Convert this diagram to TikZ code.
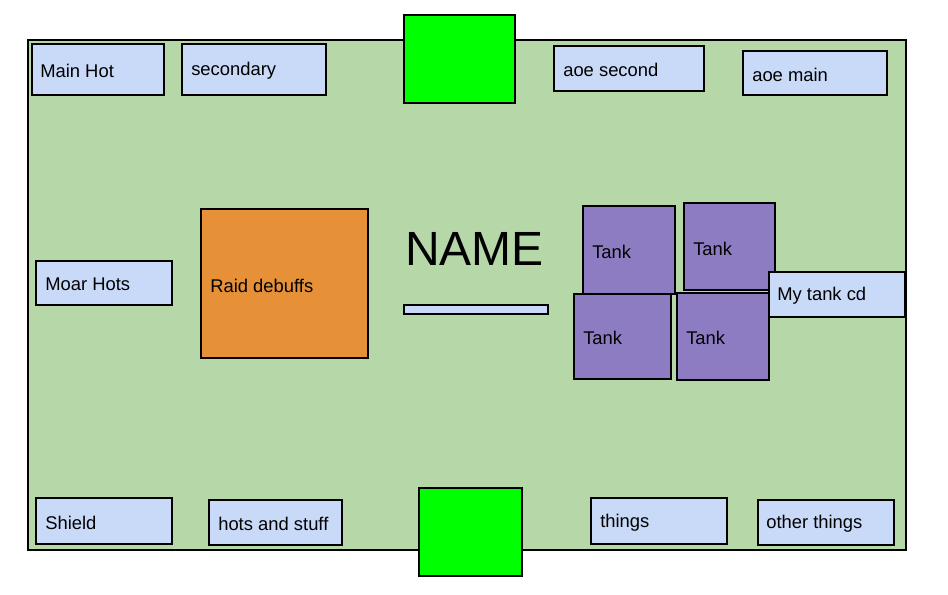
\documentclass[tikz,border=0pt]{standalone}
\usepackage{xcolor}
\usepackage{fontspec}
\setmainfont{Liberation Sans}
\definecolor{fieldgreen}{RGB}{182,215,168}
\definecolor{slotblue}{RGB}{201,218,248}
\definecolor{debufforange}{RGB}{230,145,56}
\definecolor{tankpurple}{RGB}{142,124,195}
\definecolor{markergreen}{RGB}{0,255,0}

\begin{document}
\begin{tikzpicture}[x=0.75pt,y=0.75pt,yscale=-1,xscale=1,
  frame/.style={draw=black,line width=1.1pt},
  slot/.style={frame,fill=slotblue},
  tank/.style={frame,fill=tankpurple},
  label/.style={anchor=west,inner sep=0.75pt,font=\fontsize{13.8}{16}\selectfont}]
\useasboundingbox (0,0) rectangle (948,595);

%Shape: Rectangle [id:field]
\draw [frame,fill=fieldgreen] (28,40) rectangle (906,550);

%Shape: Rectangle [id:topmarker]
\draw [frame,fill=markergreen] (404,15) rectangle (515,103);
%Shape: Rectangle [id:bottommarker]
\draw [frame,fill=markergreen] (419,488) rectangle (522,576);

%Shape: Rectangle [id:mainhot]
\draw [slot] (32,44) rectangle (164,95);
%Shape: Rectangle [id:secondary]
\draw [slot] (182,44) rectangle (326,95);
%Shape: Rectangle [id:aoesecond]
\draw [slot] (554,46) rectangle (704,91);
%Shape: Rectangle [id:aoemain]
\draw [slot] (743,51) rectangle (887,95);
%Shape: Rectangle [id:moarhots]
\draw [slot] (36,261) rectangle (172,305);
%Shape: Rectangle [id:shield]
\draw [slot] (36,498) rectangle (172,544);
%Shape: Rectangle [id:hotsstuff]
\draw [slot] (209,500) rectangle (342,545);
%Shape: Rectangle [id:things]
\draw [slot] (591,498) rectangle (727,544);
%Shape: Rectangle [id:otherthings]
\draw [slot] (758,500) rectangle (894,545);

%Shape: Rectangle [id:raiddebuffs]
\draw [frame,fill=debufforange] (201,209) rectangle (368,358);
%Shape: Rectangle [id:namebar]
\draw [slot] (404,305) rectangle (548,314);

%Shape: Rectangle [id:tanks]
\draw [tank] (583,206) rectangle (675,294);
\draw [tank] (684,203) rectangle (775,290);
\draw [tank] (574,294) rectangle (671,379);
\draw [tank] (677,293) rectangle (769,380);
%Shape: Rectangle [id:mytankcd]
\draw [slot] (769,272) rectangle (905,317);

% Text Node
\draw (39,71) node [label] (mainhottext) {Main Hot};
% Text Node
\draw (190,71) node [label] (secondarytext) {secondary};
% Text Node
\draw (562,70) node [label] (aoesecondtext) {aoe second};
% Text Node
\draw (751,74.5) node [label] (aoemaintext) {aoe main};
% Text Node
\draw (44,284.5) node [label] (moarhotstext) {Moar Hots};
% Text Node
\draw (44,522.5) node [label] (shieldtext) {Shield};
% Text Node
\draw (217,524) node [label] (hotsstufftext) {hots and stuff};
% Text Node
\draw (599,522.5) node [label] (thingstext) {things};
% Text Node
\draw (765,524) node [label] (otherthingstext) {other things};
% Text Node
\draw (209,285.5) node [label] (raiddebuffstext) {Raid debuffs};
% Text Node
\draw (404,249) node [label,font=\fontsize{36}{40}\selectfont] (nametext) {NAME};
% Text Node
\draw (591,251.5) node [label] (tankonetext) {Tank};
% Text Node
\draw (692,248.5) node [label] (tanktwotext) {Tank};
% Text Node
\draw (582,338) node [label] (tankthreetext) {Tank};
% Text Node
\draw (685,338) node [label] (tankfourtext) {Tank};
% Text Node
\draw (776,296) node [label] (mytankcdtext) {My tank cd};

\end{tikzpicture}
\end{document}
